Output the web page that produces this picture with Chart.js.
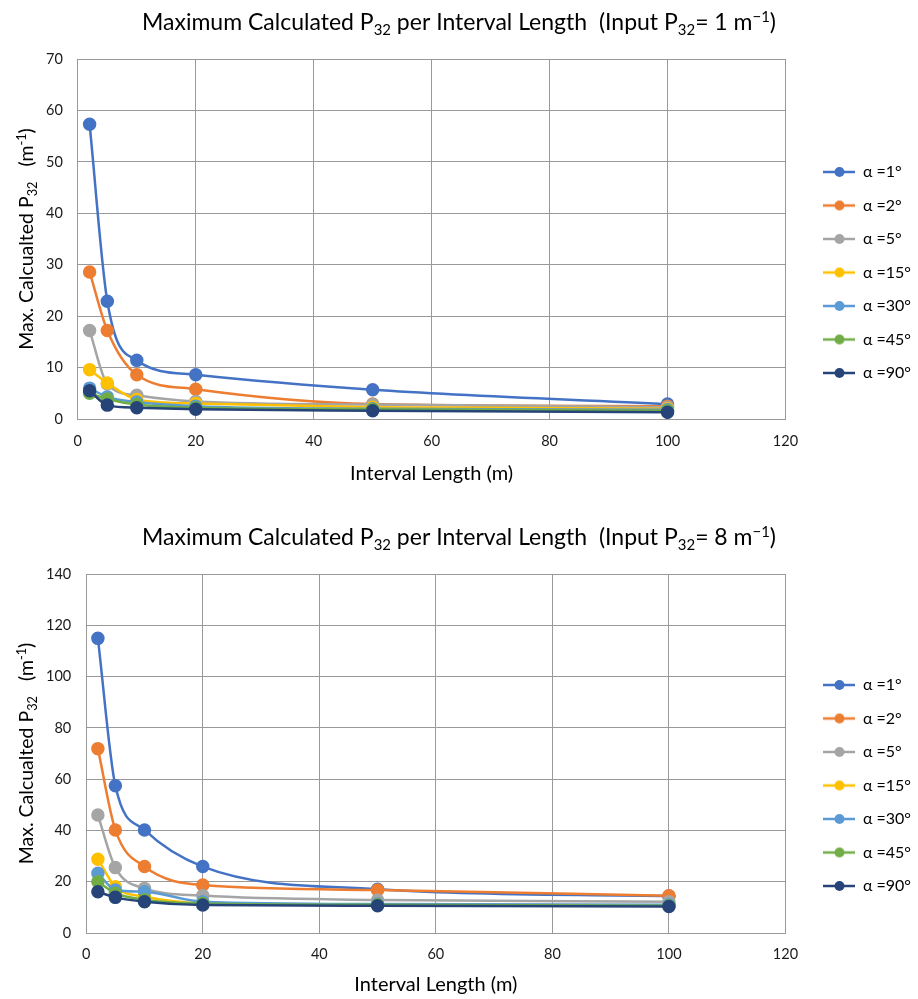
<!DOCTYPE html>
<html>
<head>
<meta charset="utf-8">
<script src="https://cdn.jsdelivr.net/npm/chart.js@4"></script>
<style>
  html, body { margin: 0; padding: 0; background: #fff; overflow: hidden; width: 918px; height: 999px; }
  .wrap { position: absolute; left: 0; width: 918px; height: 515px; }
  #w1 { top: 0; }
  #w2 { top: 515px; }
</style>
</head>
<body>
<div class="wrap" id="w1"><canvas id="c1" width="918" height="515"></canvas></div>
<div class="wrap" id="w2"><canvas id="c2" width="918" height="515"></canvas></div>
<script>
// ---- data ----
const intervalLengths = [2, 5, 10, 20, 50, 100];
const seriesLabels = ['α =1°', 'α =2°', 'α =5°', 'α =15°', 'α =30°', 'α =45°', 'α =90°'];

// Input P32 = 1 m^-1
const top_a1  = [57.3, 22.9, 11.4, 8.6, 5.7, 2.9];
const top_a2  = [28.6, 17.2, 8.6, 5.8, 2.9, 2.5];
const top_a5  = [17.2, 6.8, 4.6, 3.4, 2.8, 2.3];
const top_a15 = [9.6, 7.0, 3.8, 3.0, 2.3, 2.0];
const top_a30 = [6.0, 4.3, 3.3, 2.5, 2.0, 1.8];
const top_a45 = [5.0, 3.9, 2.8, 2.2, 1.9, 1.6];
const top_a90 = [5.5, 2.7, 2.2, 1.9, 1.6, 1.3];

// Input P32 = 8 m^-1
const bot_a1  = [114.9, 57.4, 40.2, 25.9, 17.1, 14.4];
const bot_a2  = [71.9, 40.2, 25.9, 18.7, 16.8, 14.5];
const bot_a5  = [46.0, 25.5, 17.4, 14.6, 12.9, 12.2];
const bot_a15 = [28.8, 18.0, 14.2, 11.6, 11.0, 10.8];
const bot_a30 = [23.3, 16.8, 16.1, 12.2, 11.3, 11.0];
const bot_a45 = [20.0, 15.5, 13.0, 11.5, 11.0, 10.6];
const bot_a90 = [16.1, 13.9, 12.2, 10.9, 10.6, 10.3];

const xTicks = [0, 20, 40, 60, 80, 100, 120];
const topYTicks = [0, 10, 20, 30, 40, 50, 60, 70];
const botYTicks = [0, 20, 40, 60, 80, 100, 120, 140];

// rich text segments: [text, mode] with mode '' | 'sub' | 'sup'
const titleTop = [['Maximum Calculated P', ''], ['32', 'sub'], [' per Interval Length  (Input P', ''], ['32', 'sub'], ['= 1 m', ''], ['−1', 'sup'], [')', '']];
const titleBot = [['Maximum Calculated P', ''], ['32', 'sub'], [' per Interval Length  (Input P', ''], ['32', 'sub'], ['= 8 m', ''], ['−1', 'sup'], [')', '']];
const yTitle = [['Max. Calcualted P', ''], ['32', 'sub'], ['   (m', ''], ['-1', 'sup'], [')', '']];
const xTitle = 'Interval Length (m)';

const colors = ['#4472C4', '#ED7D31', '#A5A5A5', '#FFC000', '#5B9BD5', '#70AD47', '#264478'];
const FONT = 'Lato, "Open Sans", "DejaVu Sans", sans-serif';

function segFont(size, mode) {
  const s = mode ? size * 0.65 : size;
  return s.toFixed(2) + 'px ' + FONT;
}
function drawRich(ctx, segs, cx, cy, size) {
  ctx.save();
  ctx.textBaseline = 'alphabetic';
  ctx.textAlign = 'left';
  ctx.fillStyle = '#000';
  let total = 0;
  const widths = segs.map(([t, m]) => { ctx.font = segFont(size, m); const w = ctx.measureText(t).width; total += w; return w; });
  let x = cx - total / 2;
  const base = cy + size * 0.36;
  segs.forEach(([t, m], i) => {
    ctx.font = segFont(size, m);
    let dy = 0;
    if (m === 'sub') dy = size * 0.22;
    if (m === 'sup') dy = -size * 0.38;
    ctx.fillText(t, x, base + dy);
    x += widths[i];
  });
  ctx.restore();
}

function legendIcon(color) {
  const c = document.createElement('canvas');
  c.width = 44; c.height = 12;
  const g = c.getContext('2d');
  g.strokeStyle = color; g.lineWidth = 2.5;
  g.beginPath(); g.moveTo(12, 6); g.lineTo(44, 6); g.stroke();
  g.fillStyle = color;
  g.beginPath(); g.arc(28.5, 6, 5, 0, Math.PI * 2); g.fill();
  return c;
}
const icons = colors.map(legendIcon);

const richPlugin = {
  id: 'richText',
  afterDraw(chart, args, opts) {
    const ctx = chart.ctx;
    drawRich(ctx, opts.title, chart.width / 2, 22, 23);
    const ca = chart.chartArea;
    ctx.save();
    ctx.translate(26, (ca.top + ca.bottom) / 2);
    ctx.rotate(-Math.PI / 2);
    drawRich(ctx, opts.yTitle, 0, 0, 19.5);
    ctx.restore();
  }
};

function makeChart(id, seriesArr, yTicks, title, cfg) {
  const datasets = seriesArr.map((vals, i) => ({
    label: seriesLabels[i],
    data: intervalLengths.map((x, j) => ({ x: x, y: vals[j] })),
    borderColor: colors[i],
    backgroundColor: colors[i],
    pointBackgroundColor: colors[i],
    pointBorderColor: colors[i],
    pointRadius: 5.5,
    pointHoverRadius: 5.5,
    borderWidth: 2.5,
    cubicInterpolationMode: 'monotone',
    order: seriesArr.length - i
  }));
  return new Chart(document.getElementById(id), {
    type: 'line',
    data: { datasets },
    plugins: [richPlugin],
    options: {
      responsive: false,
      animation: false,
      layout: { padding: { left: 31, right: -3, top: 59, bottom: cfg.padBottom } },
      plugins: {
        richText: { title: title, yTitle: yTitle },
        title: { display: false },
        legend: {
          position: 'right',
          labels: {
            usePointStyle: true,
            pointStyleWidth: 44,
            color: '#000',
            padding: 17.5,
            textAlign: 'left',
            font: { family: FONT, size: 16 },
            sort: (a, b) => a.datasetIndex - b.datasetIndex,
            generateLabels: (chart) => {
              const items = Chart.defaults.plugins.legend.labels.generateLabels(chart);
              items.forEach(it => { it.pointStyle = icons[it.datasetIndex]; });
              return items;
            }
          }
        },
        tooltip: { enabled: false }
      },
      scales: {
        x: {
          type: 'linear', min: 0, max: 120,
          afterBuildTicks: (s) => { s.ticks = xTicks.map(v => ({ value: v })); },
          afterFit: (s) => { s.height = cfg.axisH; },
          grid: { color: '#999', lineWidth: 1, drawTicks: false },
          border: { color: '#999' },
          ticks: { color: '#1a1a1a', font: { family: FONT, size: 14.5 }, padding: cfg.tickPad, maxRotation: 0 },
          title: { display: true, text: xTitle, color: '#000', font: { family: FONT, size: 20 }, padding: { top: 0, bottom: 0 } }
        },
        y: {
          min: yTicks[0], max: yTicks[yTicks.length - 1],
          afterBuildTicks: (s) => { s.ticks = yTicks.map(v => ({ value: v })); },
          grid: { color: '#999', lineWidth: 1, drawTicks: false },
          border: { color: '#999' },
          ticks: { color: '#1a1a1a', font: { family: FONT, size: 14.5 }, padding: 15 },
          title: { display: false }
        },
        gap: {
          type: 'linear', position: 'right', display: true,
          grid: { display: false }, border: { display: false },
          ticks: { display: false },
          afterFit: (s) => { s.width = 8; }
        }
      }
    }
  });
}

makeChart('c1', [top_a1, top_a2, top_a5, top_a15, top_a30, top_a45, top_a90], topYTicks, titleTop, { padBottom: 29, axisH: 67, tickPad: 14 });
makeChart('c2', [bot_a1, bot_a2, bot_a5, bot_a15, bot_a30, bot_a45, bot_a90], botYTicks, titleBot, { padBottom: 33, axisH: 64, tickPad: 13 });
</script>
</body>
</html>
